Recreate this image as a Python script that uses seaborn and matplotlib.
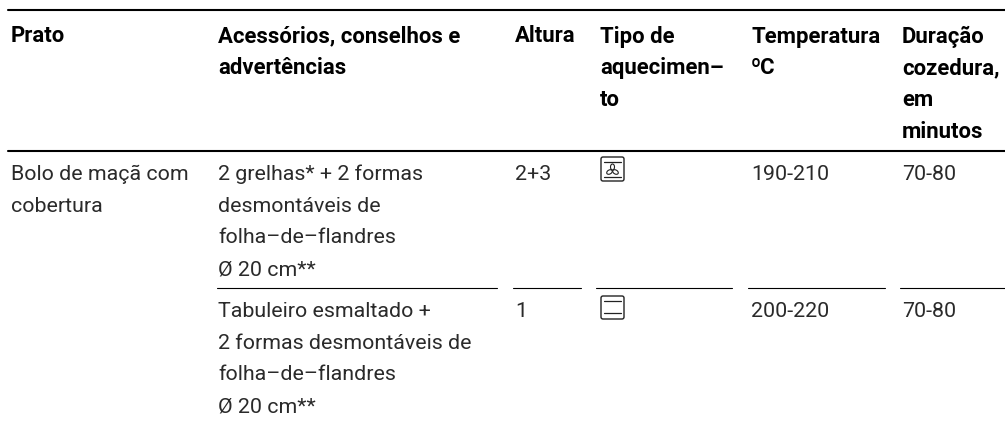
import seaborn as sns
import matplotlib.pyplot as plt
from matplotlib.patches import FancyBboxPatch, Ellipse

headers = [['Prato'], ['Acessórios, conselhos e', 'advertências'], ['Altura'], ['Tipo de', 'aquecimen–', 'to'],
           ['Temperatura', 'ºC'], ['Duração', 'cozedura,', 'em', 'minutos']]
row1 = [['Bolo de maçã com', 'cobertura'],
        ['2 grelhas* + 2 formas', 'desmontáveis de', 'folha–de–flandres', 'Ø 20 cm**'],
        ['2+3'], [], ['190-210'], ['70-80']]
row2 = [[], ['Tabuleiro esmaltado +', '2 formas desmontáveis de', 'folha–de–flandres', 'Ø 20 cm**'],
        ['1'], [], ['200-220'], ['70-80']]

col_x = [11, 218, 515, 600, 751, 902]
sep_spans = [(217, 497), (513, 581), (596, 732), (748, 885), (900, 1005)]
pitch = 31.7

W, H = 1005, 422
sns.set_theme(style='white')
plt.rcParams['font.family'] = ['Roboto', 'DejaVu Sans']

fig = plt.figure(figsize=(W / 100, H / 100), dpi=100)
ax = fig.add_axes([0, 0, 1, 1])
ax.set_xlim(0, W)
ax.set_ylim(H, 0)
ax.axis('off')

sns.lineplot(x=[8, 1005], y=[10, 10], ax=ax, color='black', linewidth=1.5)
sns.lineplot(x=[8, 1005], y=[151, 151], ax=ax, color='black', linewidth=1.5)
for a, b in sep_spans:
    sns.lineplot(x=[a, b], y=[288, 288], ax=ax, color='black', linewidth=0.8)


def draw_row(cells, base, weight, color, size):
    for x, lines in zip(col_x, cells):
        for i, t in enumerate(lines):
            ax.text(x, base + i * pitch, t, fontsize=size, fontweight=weight, color=color,
                    va='baseline', ha='left')


draw_row(headers, 42.5, 'bold', 'black', 15.9)
draw_row(row1, 180, 'normal', '#2a2a2a', 15.4)
draw_row(row2, 317, 'normal', '#2a2a2a', 15.4)


def oven_icon(y0, y1, top, bottom, fan):
    ax.add_patch(FancyBboxPatch((601, y0), 23, y1 - y0, boxstyle='round,pad=0,rounding_size=2',
                                fc='none', ec='#222222', lw=1.0))
    ax.plot([604, 621], [top, top], color='#222222', lw=0.9)
    ax.plot([604, 621], [bottom, bottom], color='#222222', lw=0.9)
    if fan:
        for dx, dy, ang in [(0, -3, 90), (-3, 2, -30), (3, 2, 30)]:
            ax.add_patch(Ellipse((612.5 + dx, 170 + dy), 6, 4, angle=ang, fc='none', ec='#222222', lw=0.8))


oven_icon(157, 181, 162, 177, True)
oven_icon(296, 319, 301, 313, False)

fig.savefig('out.png', dpi=100)
